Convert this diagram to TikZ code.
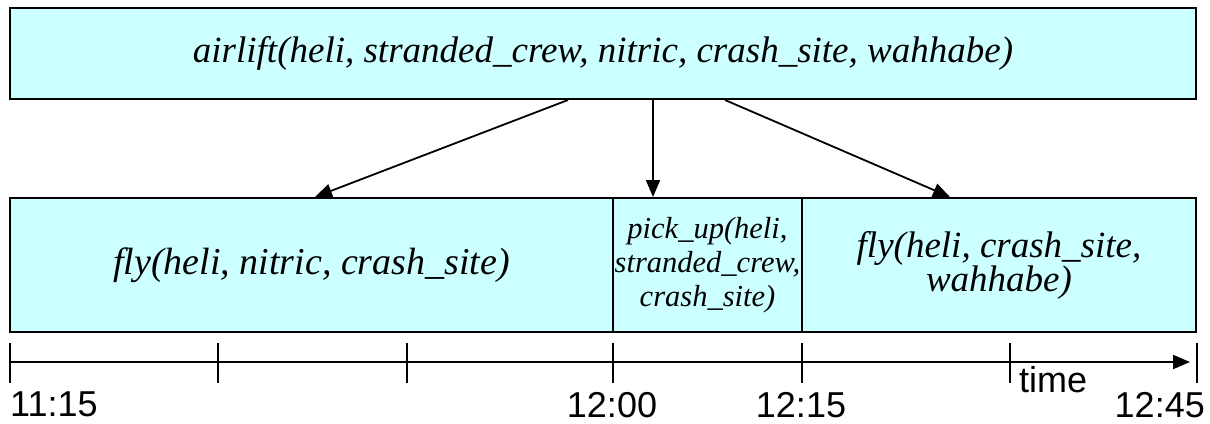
\documentclass[tikz,border=0pt]{standalone}
\usepackage{fontspec}
\setmainfont{Liberation Serif}
\newfontfamily\labelfont{Liberation Sans}
\usetikzlibrary{arrows.meta}
\definecolor{taskfill}{HTML}{CCFFFF}
\begin{document}
\begin{tikzpicture}[x=1pt,y=-1pt,
  task/.style={draw=black,line width=2pt,fill=taskfill,inner sep=0pt,
    align=center,font=\itshape},
  link/.style={line width=1.8pt,-{Triangle[length=17pt,width=14pt]}},
  tick/.style={line width=1.4pt},
  timelabel/.style={font=\labelfont\fontsize{36}{42}\selectfont,inner sep=0pt}]
\useasboundingbox (0,0) rectangle (1210,423);

% composite task and its three subtasks
\node[task,minimum width=1186pt,minimum height=91pt,
  font=\itshape\fontsize{37}{44}\selectfont] (top) at (603,53.5)
  {airlift(heli, stranded\_crew, nitric, crash\_site, wahhabe)};
\node[task,minimum width=603pt,minimum height=134pt,
  font=\itshape\fontsize{38}{44}\selectfont] (fly1) at (311.5,265)
  {fly(heli, nitric, crash\_site)};
\node[task,text width=189pt,minimum height=134pt,
  font=\itshape\fontsize{30.5}{34}\selectfont] (pick) at (707.5,265)
  {pick\_up(heli,\\stranded\_crew,\\crash\_site)};
\node[task,minimum width=394pt,minimum height=134pt,
  font=\itshape\fontsize{37}{34}\selectfont] (fly2) at (999,265)
  {fly(heli, crash\_site,\\wahhabe)};

% decomposition links
\draw[link] ([xshift=-35pt]top.south) -- ([xshift=3.5pt]fly1.north);
\draw[link] ([xshift=50pt]top.south) -- ([xshift=-54.5pt]pick.north);
\draw[link] ([xshift=122pt]top.south) -- ([xshift=-49pt]fly2.north);

% time axis
\coordinate (t0) at (10,362);
\coordinate (tend) at (1190,362);
\draw[line width=1.8pt,-{Triangle[length=17pt,width=14pt]}] (t0) -- (tend);
\foreach \x in {10,218,407,613,802,1010,1197}
  \draw[tick] (\x,343) -- (\x,383);
\node[timelabel,anchor=west] (l1115) at (10,404) {11:15};
\node[timelabel] (l1200) at (612,405) {12:00};
\node[timelabel] (l1215) at (801,405) {12:15};
\node[timelabel,anchor=east] (l1245) at (1205,405) {12:45};
\node[timelabel,anchor=west] (ltime) at (1019,380) {time};
\end{tikzpicture}
\end{document}
